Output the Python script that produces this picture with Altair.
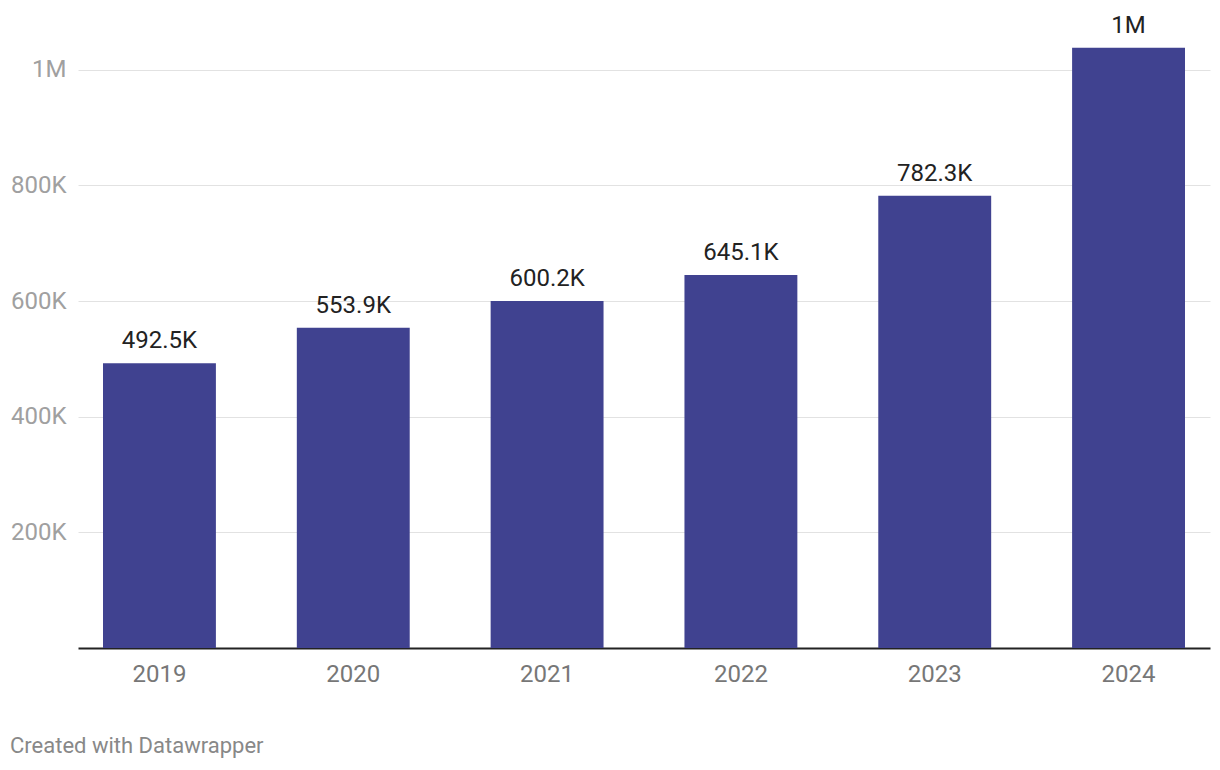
import altair as alt
import pandas as pd

years = ["2019", "2020", "2021", "2022", "2023", "2024"]
values = [492500, 553900, 600200, 645100, 782300, 1038000]
labels = ["492.5K", "553.9K", "600.2K", "645.1K", "782.3K", "1M"]
y_ticks = [200000, 400000, 600000, 800000, 1000000]
credit = "Created with Datawrapper"

df = pd.DataFrame({"year": years, "value": values, "label": labels})

FONT = "Roboto"

x_enc = alt.X(
    "year:N",
    sort=years,
    title=None,
    scale=alt.Scale(paddingInner=0.4175, paddingOuter=0.129),
    axis=alt.Axis(
        labelAngle=0,
        labelFont=FONT,
        labelFontSize=24,
        labelColor="#777777",
        labelPadding=14,
        ticks=False,
        domainColor="#222222",
        domainWidth=2,
        grid=False,
    ),
)
y_enc = alt.Y(
    "value:Q",
    title=None,
    scale=alt.Scale(domain=[0, 1100000], nice=False),
    axis=alt.Axis(
        values=y_ticks,
        labelExpr="datum.value >= 1000000 ? format(datum.value/1000000, 'd') + 'M' : format(datum.value/1000, 'd') + 'K'",
        labelFont=FONT,
        labelFontSize=24,
        labelColor="#a0a0a0",
        labelPadding=12,
        ticks=False,
        domain=False,
        grid=True,
        gridColor="#e2e2e2",
        gridWidth=1,
    ),
)

bars = alt.Chart(df).mark_bar(color="#404290").encode(x=x_enc, y=y_enc)

text = alt.Chart(df).mark_text(
    baseline="bottom", dy=-10, font=FONT, fontSize=24, color="#222222"
).encode(x=alt.X("year:N", sort=years), y="value:Q", text="label:N")

credit_df = pd.DataFrame({"t": [credit]})
credit_mark = alt.Chart(credit_df).mark_text(
    align="left", baseline="middle", font=FONT, fontSize=22, color="#888888"
).encode(x=alt.value(-68), y=alt.value(734), text="t:N")

chart = (
    alt.layer(bars, text, credit_mark)
    .properties(
        width=1132,
        height=636,
        autosize=alt.AutoSizeParams(type="none"),
        padding={"left": 70, "top": 4, "right": 2, "bottom": 114},
    )
    .configure_view(stroke=None)
)

chart.save("out.html", embed_options={"renderer": "svg", "actions": False})
